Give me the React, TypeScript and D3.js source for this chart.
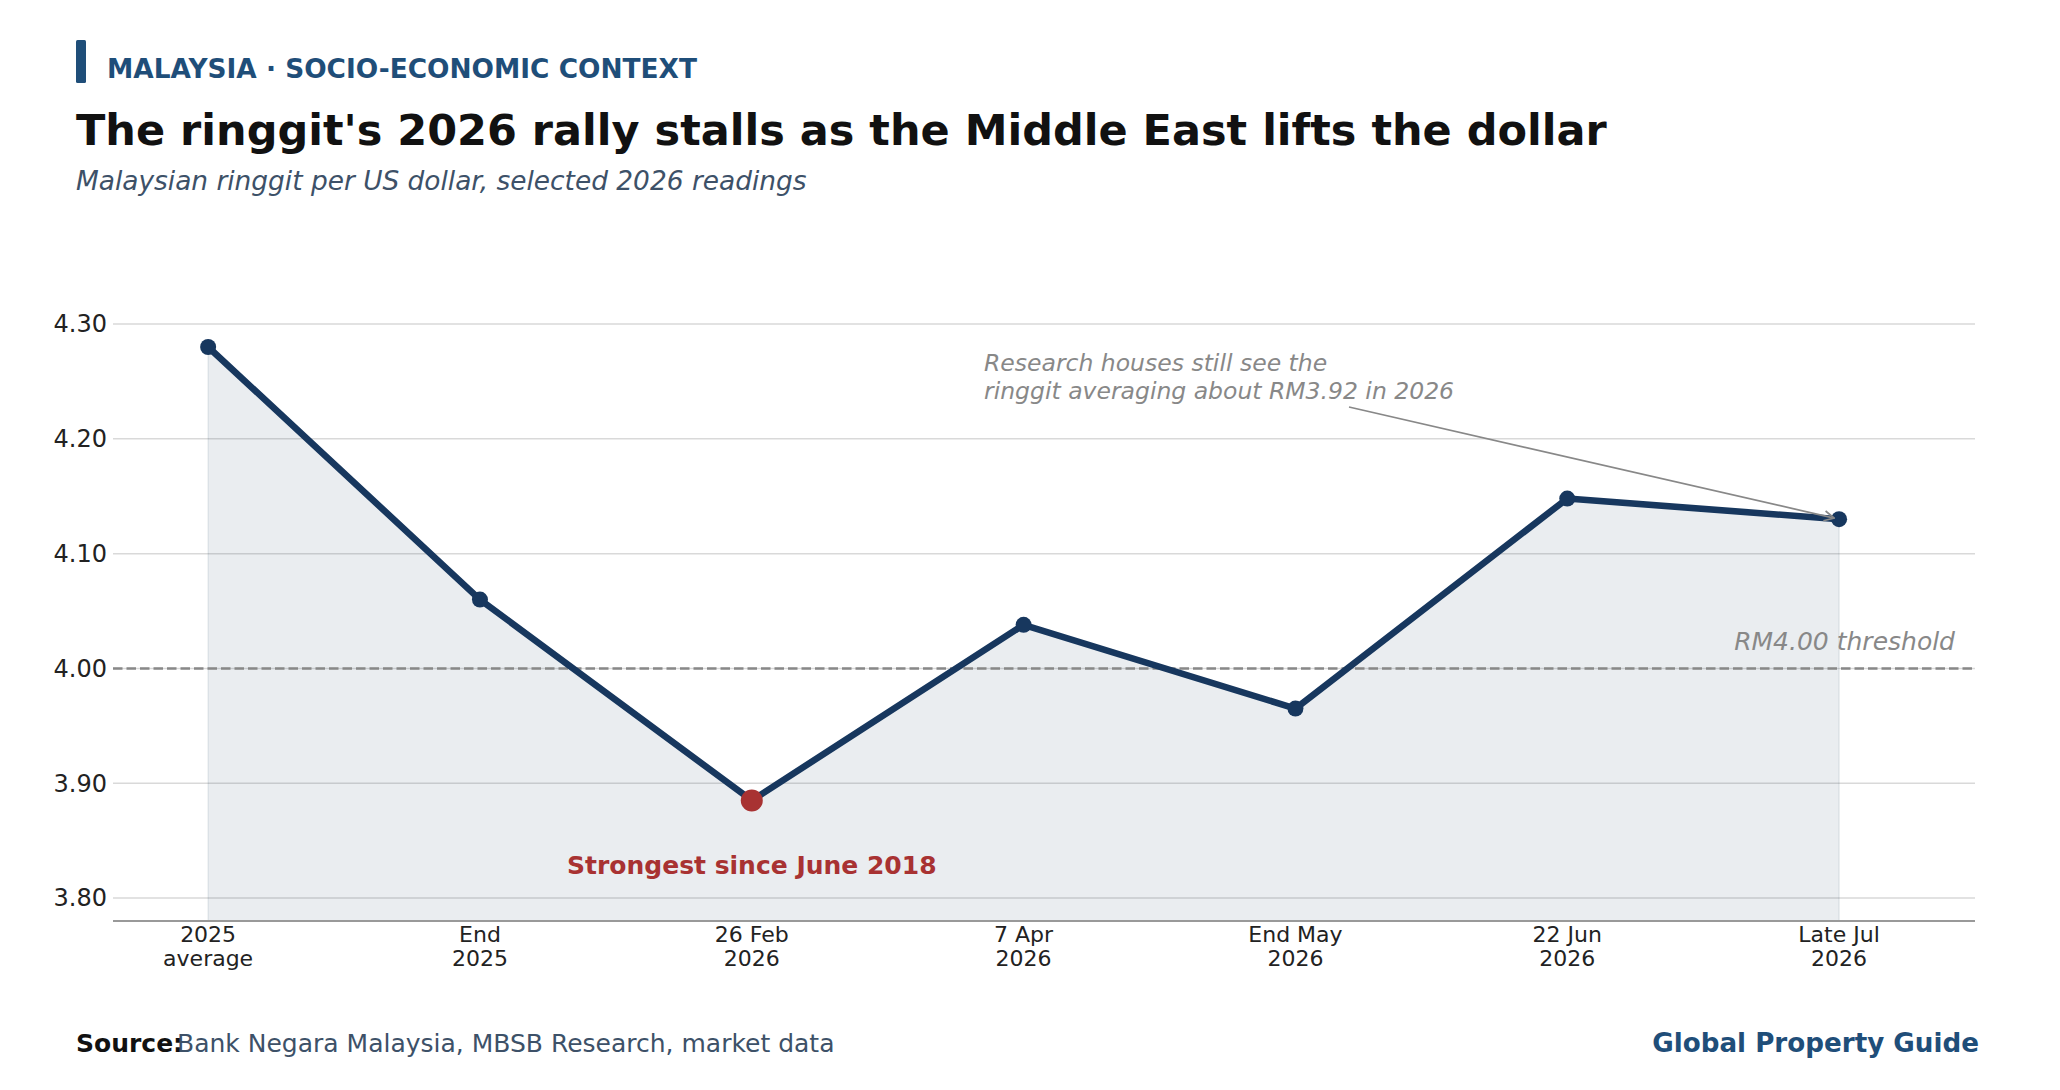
import React from "react";
import * as d3 from "d3";

const categories = ["2025\naverage", "End\n2025", "26 Feb\n2026", "7 Apr\n2026", "End May\n2026", "22 Jun\n2026", "Late Jul\n2026"];
const usdMyr = [4.28, 4.06, 3.885, 4.038, 3.965, 4.148, 4.13];
const yTicks = [3.8, 3.9, 4.0, 4.1, 4.2, 4.3];
const threshold = 4.0;
const lowIndex = 2;
const annotatedIndex = 6;

const W = 2060;
const H = 1090;
const FONT = "'DejaVu Sans', sans-serif";
const NAVY = "#17375e";
const RED = "#a83232";
const BLUE = "#1f4e79";
const SLATE = "#3d5168";
const GRAY = "#888888";

export default function App() {
  const x = d3.scaleLinear().domain([-0.35, 6.5]).range([113, 1975]);
  const y = d3.scaleLinear().domain([3.78, 4.35]).range([921, 921 - 0.57 * 1148]);
  const idx = usdMyr.map((_, i) => i);

  const area = d3
    .area<number>()
    .x((i) => x(i))
    .y0(y(3.78))
    .y1((i) => y(usdMyr[i]))(idx) as string;
  const line = d3
    .line<number>()
    .x((i) => x(i))
    .y((i) => y(usdMyr[i]))(idx) as string;

  const [x0, x1] = x.range();
  const ax = x(annotatedIndex);
  const ay = y(usdMyr[annotatedIndex]);
  const sx = 1349;
  const sy = 407;
  const dx = ax - sx;
  const dy = ay - sy;
  const len = Math.sqrt(dx * dx + dy * dy);
  const ex = ax - (dx / len) * 5;
  const ey = ay - (dy / len) * 5;

  return (
    <div style={{ position: "absolute", left: 0, top: 0, background: "#fff" }}>
      <svg width={W} height={H} viewBox={`0 0 ${W} ${H}`} style={{ display: "block", fontFamily: FONT }}>
        <defs>
          <marker id="arr" viewBox="0 0 12 12" refX="11" refY="6" markerWidth="12" markerHeight="12" markerUnits="userSpaceOnUse" orient="auto">
            <path d="M1,1 L11,6 L1,11" fill="none" stroke={GRAY} strokeWidth={1.7} />
          </marker>
        </defs>
        <rect x={0} y={0} width={W} height={H} fill="#fff" />

        {/* header */}
        <rect x={76} y={40} width={10} height={43} rx={1.5} fill={BLUE} />
        <text x={107} y={78} fontSize={26.4} fontWeight="bold" fill={BLUE}>
          MALAYSIA · SOCIO-ECONOMIC CONTEXT
        </text>
        <text x={76} y={145} fontSize={43} fontWeight="bold" fill="#111">
          The ringgit's 2026 rally stalls as the Middle East lifts the dollar
        </text>
        <text x={76} y={190} fontSize={26.4} fontStyle="italic" fill={SLATE}>
          Malaysian ringgit per US dollar, selected 2026 readings
        </text>

        {/* grid */}
        {yTicks.map((t) => (
          <g key={t}>
            <line x1={x0} x2={x1} y1={y(t)} y2={y(t)} stroke="#d9d9d9" strokeWidth={1.5} />
            <text x={107} y={y(t)} dy="0.35em" textAnchor="end" fontSize={24} fill="#222">
              {t.toFixed(2)}
            </text>
          </g>
        ))}

        {/* area */}
        <path d={area} fill={NAVY} fillOpacity={0.09} stroke={NAVY} strokeOpacity={0.09} strokeWidth={1.5} />

        {/* threshold */}
        <line x1={x0} x2={x1} y1={y(threshold)} y2={y(threshold)} stroke={GRAY} strokeWidth={2.6} strokeDasharray="9.5,4" />
        <text x={1955} y={650} textAnchor="end" fontSize={25} fontStyle="italic" fill={GRAY}>
          RM4.00 threshold
        </text>

        {/* axis */}
        <line x1={x0} x2={x1} y1={y(3.78)} y2={y(3.78)} stroke="#999" strokeWidth={2.2} />
        {categories.map((c, i) => {
          const parts = c.split("\n");
          return (
            <text key={c} x={x(i)} textAnchor="middle" fontSize={22} fill="#222">
              <tspan x={x(i)} y={942}>{parts[0]}</tspan>
              <tspan x={x(i)} y={966}>{parts[1]}</tspan>
            </text>
          );
        })}

        {/* line and markers */}
        <path d={line} fill="none" stroke={NAVY} strokeWidth={6.6} strokeLinejoin="round" strokeLinecap="round" />
        {idx.map((i) =>
          i === lowIndex ? null : <circle key={i} cx={x(i)} cy={y(usdMyr[i])} r={8} fill={NAVY} />
        )}
        <circle cx={x(lowIndex)} cy={y(usdMyr[lowIndex])} r={11} fill={RED} />

        <text x={x(lowIndex)} y={874} textAnchor="middle" fontSize={25} fontWeight="bold" fill={RED}>
          Strongest since June 2018
        </text>

        {/* annotation */}
        <text x={984} y={371} fontSize={23.5} fontStyle="italic" fill={GRAY}>
          Research houses still see the
        </text>
        <text x={984} y={399} fontSize={23.5} fontStyle="italic" fill={GRAY}>
          ringgit averaging about RM3.92 in 2026
        </text>
        <line x1={sx} y1={sy} x2={ex} y2={ey} stroke={GRAY} strokeWidth={1.7} markerEnd="url(#arr)" />

        {/* footer */}
        <text x={76} y={1052} fontSize={25} fontWeight="bold" fill="#111">
          Source:
        </text>
        <text x={177} y={1052} fontSize={25} fill={SLATE}>
          Bank Negara Malaysia, MBSB Research, market data
        </text>
        <text x={1979} y={1052} textAnchor="end" fontSize={26.2} fontWeight="bold" fill={BLUE}>
          Global Property Guide
        </text>
      </svg>
    </div>
  );
}
